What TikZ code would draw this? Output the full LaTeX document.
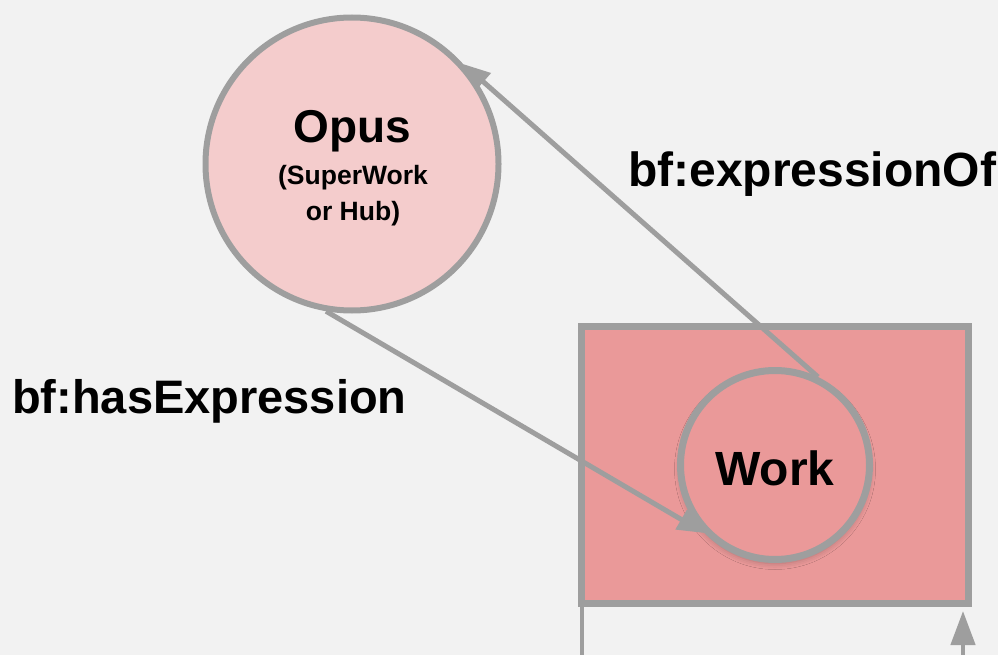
\documentclass[tikz,border=0pt]{standalone}
\usepackage{fontspec}
\setmainfont{Liberation Sans}
\usetikzlibrary{arrows.meta,shadows.blur}
\definecolor{bg}{HTML}{F2F2F2}
\definecolor{edgegray}{HTML}{9E9E9E}
\definecolor{opusfill}{HTML}{F4CCCC}
\definecolor{workfill}{HTML}{EA9999}
\tikzset{
  circnode/.style={circle, draw=edgegray, inner sep=0pt},
  conn/.style={draw=edgegray, line width=5pt, -{Triangle[length=27pt,width=22pt]}},
  lbl/.style={font=\bfseries\fontsize{48}{48}\selectfont, anchor=base west, inner sep=0pt},
  txt/.style={font=\bfseries, anchor=base, inner sep=0pt},
}
\begin{document}
\begin{tikzpicture}[x=1pt,y=-1pt]
\fill[bg] (0,0) rectangle (998,655);
\useasboundingbox (0,0) rectangle (998,655);
% lines below rectangle
\coordinate (bl) at (582,660);
\coordinate (blt) at (582,604);
\coordinate (br) at (963,660);
\coordinate (brt) at (963,611);
\draw[edgegray, line width=4.5pt] (blt) -- (bl);
\draw[draw=edgegray, line width=4.5pt, -{Triangle[length=34pt,width=24pt]}] (br) -- (brt);
% rectangle
\node[draw=edgegray, fill=workfill, line width=7pt, minimum width=387pt, minimum height=277pt, inner sep=0pt] (rect) at (775,465) {};
% opus
\node[circnode, fill=opusfill, line width=6pt, minimum size=293pt] (opus) at (352,164) {};
\node[txt, font=\bfseries\fontsize{46}{46}\selectfont] (opust) at (352,143) {Opus};
\node[txt, font=\bfseries\fontsize{26.5}{26.5}\selectfont] (opus2) at (353,185) {(SuperWork};
\node[txt, font=\bfseries\fontsize{26.5}{26.5}\selectfont] (opus3) at (353,220) {or Hub)};
% work
\node[circnode, fill=workfill, line width=7pt, minimum size=189pt,
  blur shadow={shadow xshift=0pt, shadow yshift=-4pt, shadow blur radius=6pt, shadow opacity=25}] (work) at (775,465) {};
\node[txt, font=\bfseries\fontsize{48}{48}\selectfont] (workt) at (775,485) {Work};
% connectors
\draw[conn] (work.64) -- (opus.42);
\draw[conn] (opus.260) -- (work.224);
% labels
\node[lbl] (eo) at (628,187) {bf:expressionOf};
\node[lbl, font=\bfseries\fontsize{47}{47}\selectfont] (he) at (12,413) {bf:hasExpression};
\end{tikzpicture}
\end{document}
